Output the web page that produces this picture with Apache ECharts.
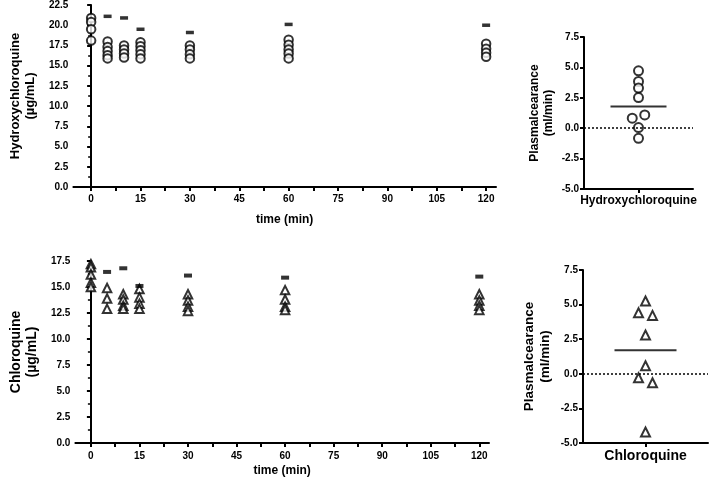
<!DOCTYPE html>
<html><head><meta charset="utf-8">
<script src="https://cdn.jsdelivr.net/npm/echarts@6/dist/echarts.min.js"></script>
<style>html,body{margin:0;padding:0;background:#fff}#c{width:709px;height:486px}</style>
</head><body><div id="c"></div>
<script>
// ---- data ----
const times = [0, 5, 10, 15, 30, 60, 120];
const hcqConc = [
  [20.9, 20.4, 19.5, 18.1],
  [18.0, 17.3, 16.8, 16.3, 15.9],
  [17.5, 17.0, 16.5, 16.0],
  [17.9, 17.4, 16.9, 16.4, 15.9],
  [17.5, 17.0, 16.4, 15.9],
  [18.2, 17.6, 17.0, 16.5, 15.9],
  [17.7, 17.1, 16.6, 16.1]
];
const hcqDash = [null, 21.1, 20.9, 19.5, 19.1, 20.1, 20.0];
const cqConc = [
  [17.2, 16.9, 16.2, 15.4, 15.0],
  [14.9, 13.9, 12.9],
  [14.3, 13.8, 13.2, 12.9],
  [14.8, 14.0, 13.4, 12.9],
  [14.3, 13.7, 13.1, 12.7],
  [14.7, 13.8, 13.1, 12.8],
  [14.3, 13.7, 13.2, 12.8]
];
const cqDash = [null, 16.45, 16.8, 15.1, 16.1, 15.9, 16.0];
const hcqClear = [4.72, 3.84, 3.30, 2.52, 0.82, 1.09, 0.05, -0.83];
const hcqClearMean = 1.78;
const cqClear = [5.26, 4.41, 4.22, 2.80, 0.58, -0.29, -0.65, -4.2];
const cqClearMean = 1.71;
const timeLabels = [0, 15, 30, 45, 60, 75, 90, 105, 120];
const timeTicks = [0, 7.5, 15, 22.5, 30, 37.5, 45, 52.5, 60, 67.5, 75, 82.5, 90, 97.5, 105, 112.5, 120];

// ---- helpers ----
const FONT = 'Liberation Sans, Arial, sans-serif';
function pairs(t, arrs) { const out = []; arrs.forEach((a, i) => a.forEach(v => out.push([t[i], v]))); return out; }
function dashPairs(t, arr) { const out = []; arr.forEach((v, i) => { if (v !== null) out.push([t[i], v]); }); return out; }
function swarm(values, thr) {
  const idx = values.map((v, i) => i).sort((a, b) => values[b] - values[a]);
  const off = new Array(values.length).fill(0);
  let group = [idx[0]];
  const flush = () => { const g = group.slice().sort((a, b) => a - b); g.forEach((k, j) => off[k] = j - (g.length - 1) / 2); };
  for (let i = 1; i < idx.length; i++) {
    if (values[group[group.length - 1]] - values[idx[i]] < thr) group.push(idx[i]);
    else { flush(); group = [idx[i]]; }
  }
  flush();
  return off;
}
const axisLine = { show: true, lineStyle: { color: '#000', width: 2 } };
const tickStyle = { show: true, length: 4, lineStyle: { color: '#000', width: 2 } };
const lbl = (s) => ({ color: '#000', fontWeight: 'bold', fontSize: s, fontFamily: FONT });

const chart = echarts.init(document.getElementById('c'), null, { renderer: 'canvas' });
const hOff = swarm(hcqClear, 0.45);
const cOff = swarm(cqClear, 0.45);

const timeX = (gi, min, nameGap, margin) => ({
  type: 'value', gridIndex: gi, min: min, max: 123,
  name: 'time (min)', nameLocation: 'middle', nameGap: nameGap,
  nameTextStyle: lbl(12),
  axisLine: axisLine, splitLine: { show: false },
  axisTick: Object.assign({ customValues: timeTicks }, tickStyle),
  axisLabel: Object.assign({ customValues: timeLabels, margin: margin }, lbl(10))
});
const concY = (gi, max, name, nameSize, gap) => ({
  type: 'value', gridIndex: gi, min: 0, max: max, interval: 2.5,
  name: name, nameLocation: 'middle', nameGap: gap, nameTextStyle: Object.assign(lbl(nameSize), { lineHeight: nameSize + 2 }),
  axisLine: axisLine, splitLine: { show: false },
  axisTick: tickStyle,
  minorTick: { show: true, splitNumber: 2, length: 3, lineStyle: { color: '#000', width: 1.5 } },
  axisLabel: Object.assign({ formatter: v => v.toFixed(1), margin: 5 }, lbl(10))
});
const clearY = (gi, nameSize, gap) => ({
  type: 'value', gridIndex: gi, min: -5, max: 7.5, interval: 2.5,
  name: 'Plasmalcearance\n(ml/min)', nameLocation: 'middle', nameGap: gap,
  nameTextStyle: Object.assign(lbl(nameSize), { lineHeight: nameSize + 2 }),
  axisLine: Object.assign({ onZero: false }, axisLine), splitLine: { show: false },
  axisTick: tickStyle,
  axisLabel: Object.assign({ formatter: v => v.toFixed(1), margin: 5 }, lbl(10))
});
const catX = (gi, name, size) => ({
  type: 'category', gridIndex: gi, data: [name], boundaryGap: true,
  axisLine: Object.assign({ onZero: false }, axisLine),
  axisTick: Object.assign({ alignWithLabel: true }, tickStyle),
  axisLabel: Object.assign({ margin: 6 }, lbl(size))
});
const zeroLine = {
  silent: true, symbol: 'none', label: { show: false },
  lineStyle: { type: [2, 2], color: '#000', width: 1.5 },
  data: [{ yAxis: 0 }]
};
const markerStyle = { color: '#fff', borderColor: '#000', borderWidth: 2 };

chart.setOption({
  animation: false,
  backgroundColor: '#fff',
  grid: [
    { left: 68, top: 5, width: 428, height: 182 },
    { left: 63, top: 261, width: 426, height: 182 },
    { left: 584, top: 37, width: 109, height: 152 },
    { left: 583, top: 270, width: 125, height: 173 }
  ],
  xAxis: [
    timeX(0, -5.4, 27, 7),
    timeX(1, -4.8, 22, 8),
    catX(2, 'Hydroxychloroquine', 12),
    catX(3, 'Chloroquine', 14)
  ],
  yAxis: [
    concY(0, 22.5, 'Hydroxychloroquine\n(µg/mL)', 13, 32),
    concY(1, 17.5, 'Chloroquine\n(µg/mL)', 14, 30),
    clearY(2, 12, 28),
    clearY(3, 13.5, 30)
  ],
  series: [
    { type: 'scatter', xAxisIndex: 0, yAxisIndex: 0, symbol: 'circle', symbolSize: 8.5,
      itemStyle: markerStyle, data: pairs(times, hcqConc) },
    { type: 'scatter', xAxisIndex: 0, yAxisIndex: 0, symbol: 'rect', symbolSize: [8, 3.5],
      itemStyle: { color: '#000' }, data: dashPairs(times, hcqDash) },
    { type: 'scatter', xAxisIndex: 1, yAxisIndex: 1, symbol: 'triangle', symbolSize: 8.5,
      itemStyle: markerStyle, data: pairs(times, cqConc) },
    { type: 'scatter', xAxisIndex: 1, yAxisIndex: 1, symbol: 'rect', symbolSize: [8, 4],
      itemStyle: { color: '#000' }, data: dashPairs(times, cqDash) },
    { type: 'scatter', xAxisIndex: 2, yAxisIndex: 2, symbol: 'circle', symbolSize: 9,
      itemStyle: markerStyle, markLine: zeroLine,
      data: hcqClear.map((v, i) => ({ value: [0, v], symbolOffset: [hOff[i] * 12.5, 0] })) },
    { type: 'scatter', xAxisIndex: 2, yAxisIndex: 2, symbol: 'rect', symbolSize: [56, 2],
      itemStyle: { color: '#000' }, z: 1, data: [[0, hcqClearMean]] },
    { type: 'scatter', xAxisIndex: 3, yAxisIndex: 3, symbol: 'triangle', symbolSize: 9,
      itemStyle: markerStyle, markLine: zeroLine,
      data: cqClear.map((v, i) => ({ value: [0, v], symbolOffset: [cOff[i] * 14, 0] })) },
    { type: 'scatter', xAxisIndex: 3, yAxisIndex: 3, symbol: 'rect', symbolSize: [62, 2],
      itemStyle: { color: '#000' }, z: 1, data: [[0, cqClearMean]] }
  ]
});
</script></body></html>
